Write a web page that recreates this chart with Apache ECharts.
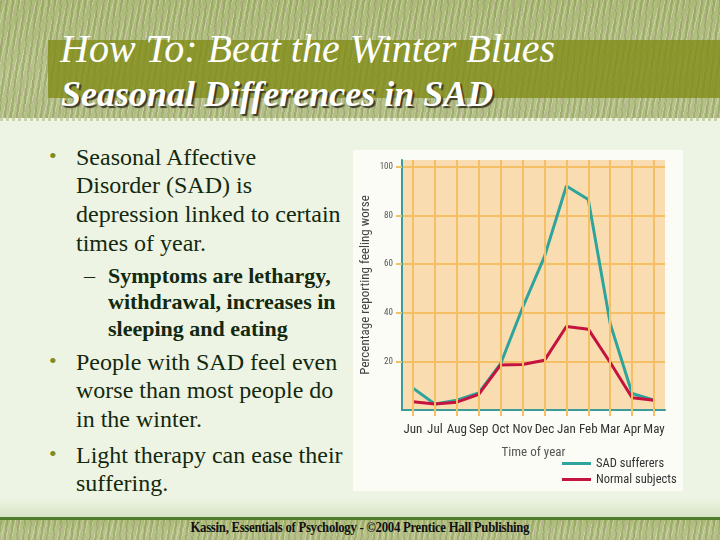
<!DOCTYPE html>
<html><head><meta charset="utf-8">
<script src="https://cdn.jsdelivr.net/npm/echarts@6/dist/echarts.min.js"></script>
<style>
html,body{margin:0;padding:0;}
body{width:720px;height:540px;position:relative;overflow:hidden;background:#eef4e3;font-family:'Liberation Serif','Times New Roman',serif;}
.grass{position:absolute;left:0;width:720px;
 background:
 repeating-linear-gradient(97deg, rgba(110,130,50,.30) 0 2px, transparent 2px 6px),
 repeating-linear-gradient(83deg, rgba(190,140,160,.28) 0 1px, transparent 1px 9px),
 repeating-linear-gradient(104deg, rgba(230,240,200,.35) 0 1px, transparent 1px 5px),
 linear-gradient(180deg,#adbb7a,#b7c38a 60%,#b4c088);}
#hdr{top:0;height:118px;}
#hdrline{position:absolute;top:118px;left:0;width:720px;height:3px;background:repeating-linear-gradient(90deg,#c9d3ab 0 3px,#eef4e3 3px 6px);}
#band{position:absolute;left:48px;top:40px;width:672px;height:58px;background:rgba(128,140,22,.78);}
.t1{position:absolute;left:60px;top:26px;color:#fff;font-style:italic;font-size:40px;line-height:46px;white-space:nowrap;}
.t2{position:absolute;left:61px;top:74px;color:#fff;font-style:italic;font-weight:bold;font-size:36px;line-height:40px;white-space:nowrap;text-shadow:2px 2px 1px #3a3a2a;}
#ftfade{position:absolute;left:0;top:498px;width:720px;height:21px;background:linear-gradient(180deg,#eef4e3,#d6e3c2);}
#ftline{position:absolute;left:0;top:517px;width:720px;height:3px;background:#4f7d2c;}
#ft{top:520px;height:20px;}
.ftxt{position:absolute;left:0;width:720px;top:519px;text-align:center;font-weight:bold;font-size:14px;color:#111;line-height:18px;transform:scaleX(0.91);transform-origin:358px 0;letter-spacing:-0.3px;}
.p{position:absolute;color:#13290f;font-size:24px;white-space:nowrap;}
.b{position:absolute;left:49px;font-size:22px;color:#7d8c22;}
.sub{position:absolute;color:#13290f;font-size:22px;font-weight:bold;white-space:nowrap;}
#card{position:absolute;left:353px;top:150px;width:330px;height:341px;background:#fcfcf7;}
#chart{position:absolute;left:0;top:0;width:720px;height:540px;}
</style></head>
<body>
<div id="hdr" class="grass"></div>
<div id="hdrline"></div>
<div id="band"></div>
<div class="t1">How To: Beat the Winter Blues</div>
<div class="t2">Seasonal Differences in SAD</div>

<div class="b" style="top:142px;line-height:28.7px">•</div>
<div class="p" style="left:76px;top:142.6px;line-height:28.7px">Seasonal Affective<br>Disorder (SAD) is<br>depression linked to certain<br>times of year.</div>
<div class="sub" style="left:84px;top:262.7px;line-height:26.5px;font-weight:normal">–</div>
<div class="sub" style="left:108px;top:262.7px;line-height:26.5px">Symptoms are lethargy,<br>withdrawal, increases in<br>sleeping and eating</div>
<div class="b" style="top:347px;line-height:28.5px">•</div>
<div class="p" style="left:76px;top:347.7px;line-height:28.5px">People with SAD feel even<br>worse than most people do<br>in the winter.</div>
<div class="b" style="top:440px;line-height:28.7px">•</div>
<div class="p" style="left:76px;top:440.6px;line-height:28.7px">Light therapy can ease their<br>suffering.</div>

<div id="card"></div>
<div id="ftfade"></div>
<div id="ftline"></div>
<div id="ft" class="grass"></div>
<div class="ftxt">Kassin, Essentials of Psychology - ©2004 Prentice Hall Publishing</div>

<div id="chart"></div>
<script>
const months = ['Jun','Jul','Aug','Sep','Oct','Nov','Dec','Jan','Feb','Mar','Apr','May'];
const sadSufferers = [9, 2.5, 4, 7, 19, 42, 63, 92, 86.5, 35.5, 6.8, 4];
const normalSubjects = [3.4, 2.5, 3.2, 6.4, 18.5, 18.7, 20.4, 34.3, 33.2, 19.5, 5, 4];
const yTicks = [20, 40, 60, 80, 100];
const seriesNames = ['SAD sufferers', 'Normal subjects'];

const font = "'Roboto Condensed','Liberation Sans',Arial,sans-serif";
const grid = '#f5c065';
const chart = echarts.init(document.getElementById('chart'), null, {renderer:'canvas'});
chart.setOption({
  animation:false,
  backgroundColor:'transparent',
  grid:{left:402,right:55,top:160,bottom:130,show:true,backgroundColor:'#f9ddb0',borderWidth:0},
  legend:{
    orient:'vertical', left:557, top:452, icon:'rect', itemWidth:29, itemHeight:3, itemGap:3,
    textStyle:{fontFamily:font,fontSize:12.5,color:'#333'},
    data:seriesNames
  },
  xAxis:{
    type:'category', data:months, boundaryGap:true,
    name:'Time of year', nameLocation:'middle', nameGap:36,
    nameTextStyle:{fontFamily:font,fontSize:13,color:'#555'},
    axisLine:{lineStyle:{color:'#3c9c9a',width:2}},
    axisTick:{show:true,alignWithLabel:true,length:6,lineStyle:{color:grid,width:2}},
    splitLine:{show:false},
    axisLabel:{fontFamily:font,fontSize:13,color:'#333',margin:13,interval:0}
  },
  yAxis:{
    type:'value', min:0, max:102.7, interval:20,
    name:'Percentage reporting feeling worse', nameLocation:'middle', nameGap:30,
    nameTextStyle:{fontFamily:font,fontSize:13,color:'#444'},
    axisLine:{show:true,lineStyle:{color:'#3c9c9a',width:2}},
    axisTick:{show:true,length:6,lineStyle:{color:grid,width:2}},
    splitLine:{show:true,showMinLine:false,showMaxLine:false,lineStyle:{color:grid,width:2}},
    axisLabel:{fontFamily:font,fontSize:9,color:'#555',margin:9,showMinLabel:false,showMaxLabel:false,
      formatter:v=>yTicks.includes(v)?String(v):''}
  },
  series:[
    {type:'line',data:[],z:1,silent:true,
     markLine:{silent:true,symbol:'none',label:{show:false},animation:false,
       lineStyle:{color:grid,width:2,type:'solid'},
       data:months.map(m=>({xAxis:m}))}},
    {name:seriesNames[0],type:'line',z:3,data:sadSufferers,symbol:'none',lineStyle:{color:'#2fa49c',width:3},itemStyle:{color:'#2fa49c'}},
    {name:seriesNames[1],type:'line',z:4,data:normalSubjects,symbol:'none',lineStyle:{color:'#c5123f',width:3},itemStyle:{color:'#c5123f'}}
  ]
});
</script>
</body></html>
